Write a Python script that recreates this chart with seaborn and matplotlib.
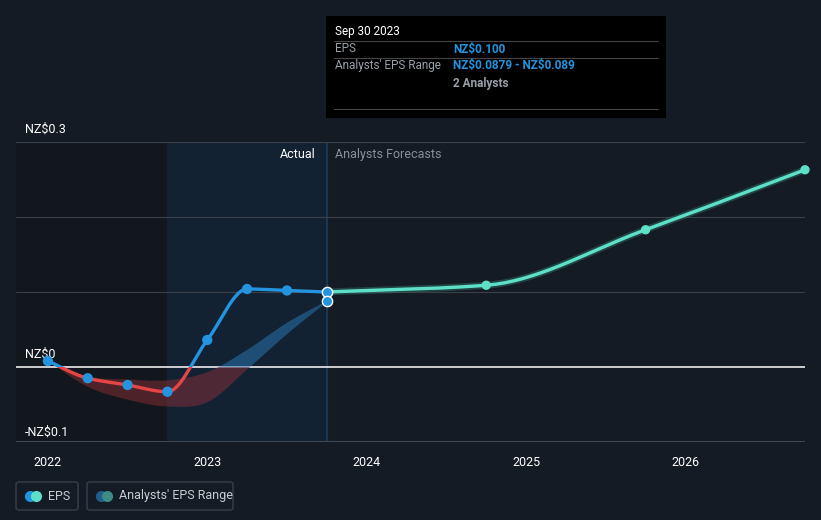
import numpy as np
import pandas as pd
import matplotlib
matplotlib.use("Agg")
import matplotlib.pyplot as plt
from matplotlib.patches import Rectangle, FancyBboxPatch
import seaborn as sns

# data (x in fractional years)
hist_x = [2022.0, 2022.25, 2022.5, 2022.75, 2023.0, 2023.25, 2023.5, 2023.75]
hist_eps = [0.008, -0.015, -0.024, -0.033, 0.036, 0.104, 0.102, 0.100]
range_hi = [0.008, -0.012, -0.016, -0.017, -0.006, 0.024, 0.060, 0.089]
range_lo = [0.008, -0.026, -0.043, -0.052, -0.046, -0.002, 0.045, 0.088]
fc_x = [2023.75, 2024.75, 2025.75, 2026.75]
fc_eps = [0.100, 0.109, 0.183, 0.263]
year_ticks = [2022, 2023, 2024, 2025, 2026]
y_ticks = [-0.1, 0, 0.3]
y_labels = ["-NZ$0.1", "NZ$0", "NZ$0.3"]

BG = "#151b24"
BLUE = "#2394df"
RED = "#e64545"
TEAL = "#5ee0c8"


def smooth(x, y, n=200, monotone=True):
    # cubic hermite curve, only used to draw the smooth line shape
    x = np.asarray(x, float); y = np.asarray(y, float)
    h = np.diff(x); d = np.diff(y) / h
    m = np.zeros_like(y)
    m[0], m[-1] = d[0], d[-1]
    for i in range(1, len(y) - 1):
        if not monotone:
            m[i] = (d[i - 1] + d[i]) / 2
        elif d[i - 1] * d[i] > 0:
            w1 = 2 * h[i] + h[i - 1]; w2 = h[i] + 2 * h[i - 1]
            m[i] = (w1 + w2) / (w1 / d[i - 1] + w2 / d[i])
    xs = np.linspace(x[0], x[-1], n)
    idx = np.clip(np.searchsorted(x, xs) - 1, 0, len(x) - 2)
    t = (xs - x[idx]) / h[idx]
    h00 = 2 * t**3 - 3 * t**2 + 1; h10 = t**3 - 2 * t**2 + t
    h01 = -2 * t**3 + 3 * t**2; h11 = t**3 - t**2
    ys = h00 * y[idx] + h10 * h[idx] * m[idx] + h01 * y[idx + 1] + h11 * h[idx] * m[idx + 1]
    return xs, ys


sns.set_style("dark", {"axes.facecolor": BG, "figure.facecolor": BG})
plt.rcParams["font.family"] = ["Roboto", "DejaVu Sans"]
plt.rcParams["text.parse_math"] = False

fig = plt.figure(figsize=(8.21, 5.2), dpi=100)
ax = fig.add_axes([16 / 821, 78 / 520, 789 / 821, 300 / 520])
ax.set_facecolor(BG)
ax.set_xlim(2021.8, 2026.75)
ax.set_ylim(-0.1, 0.3)

# shaded past / actual regions
ax.axvspan(2021.8, 2022.75, color="#12161d", zorder=0)
ax.axvspan(2022.75, 2023.75, color="#132233", zorder=0)
ax.axvline(2023.75, color="#1c3b58", lw=1.2, zorder=1)

for yv in [0.1, 0.2, 0.3]:
    ax.axhline(yv, color="#3a404a", lw=0.8, zorder=1)
ax.axhline(0, color="white", lw=1.1, zorder=2)
ax.axhline(-0.1, color="#4a505a", lw=1.2, zorder=2)

up_clip = Rectangle((2021, 0), 10, 1, transform=ax.transData)
dn_clip = Rectangle((2021, -1), 10, 1, transform=ax.transData)

# analysts' range band
bx, bhi = smooth(hist_x, range_hi, monotone=False)
_, blo = smooth(hist_x, range_lo, monotone=False)
f1 = ax.fill_between(bx, blo, bhi, color="#2a78b8", alpha=0.5, lw=0, zorder=3)
f1.set_clip_path(up_clip)
f2 = ax.fill_between(bx, blo, bhi, color="#8a2e36", alpha=0.5, lw=0, zorder=3)
f2.set_clip_path(dn_clip)

# historic EPS line, blue above zero, red below
hx, hy = smooth(hist_x, hist_eps)
df_h = pd.DataFrame({"x": hx, "y": hy})
sns.lineplot(data=df_h, x="x", y="y", ax=ax, color=BLUE, lw=2.4, zorder=4)
sns.lineplot(data=df_h, x="x", y="y", ax=ax, color=RED, lw=2.4, zorder=4)
ax.lines[-2].set_clip_path(up_clip)
ax.lines[-1].set_clip_path(dn_clip)

# forecast
fx, fy = smooth(fc_x, fc_eps)
sns.lineplot(x=fx, y=fy, ax=ax, color="#2d6f64", lw=5, alpha=0.5, zorder=4)
sns.lineplot(x=fx, y=fy, ax=ax, color=TEAL, lw=2.4, zorder=5)
sns.scatterplot(x=fc_x[1:], y=fc_eps[1:], ax=ax, color=TEAL, s=45, edgecolor="none", zorder=6, clip_on=False)
sns.scatterplot(x=hist_x[:-1], y=hist_eps[:-1], ax=ax, color=BLUE, s=55, edgecolor="none", zorder=6)
sns.scatterplot(x=[hist_x[-1], hist_x[-1]], y=[hist_eps[-1], range_lo[-1]], ax=ax, color=BLUE,
                s=55, edgecolor="white", linewidth=1, zorder=7)

ax.text(2023.68, 0.283, "Actual", color="white", fontsize=9, ha="right", va="center")
ax.text(2023.80, 0.283, "Analysts Forecasts", color="#8a8f98", fontsize=9, ha="left", va="center")

ax.set_xticks(year_ticks)
ax.set_xticklabels([str(y) for y in year_ticks], color="white", fontsize=9)
ax.tick_params(axis="x", length=4, color="#4a505a", pad=6)
ax.set_yticks([])
ax.set_xlabel(""); ax.set_ylabel("")
for s in ax.spines.values():
    s.set_visible(False)
for yv, lab in zip(y_ticks, y_labels):
    ax.text(0.011, yv + 0.008 if yv > -0.1 else yv + 0.004, lab, transform=ax.get_yaxis_transform(),
            color="white", fontsize=9, ha="left", va="bottom")

# tooltip
fig.patches.append(Rectangle((326 / 821, 1 - 118 / 520), 340 / 821, 102 / 520, transform=fig.transFigure,
                             facecolor="black", edgecolor="none", zorder=10))
for yy in [41, 58, 109]:
    fig.add_artist(plt.Line2D([334 / 821, 658 / 821], [1 - yy / 520] * 2, color="#444", lw=0.8, zorder=11))
fig.text(335 / 821, 1 - 31 / 520, "Sep 30 2023", color="white", fontsize=8.5, va="center", zorder=12)
fig.text(335 / 821, 1 - 49 / 520, "EPS", color="#9a9fa8", fontsize=8.5, va="center", zorder=12)
fig.text(453 / 821, 1 - 49 / 520, "NZ$0.100", color=BLUE, fontsize=8.5, weight="bold", va="center", zorder=12)
fig.text(335 / 821, 1 - 66 / 520, "Analysts' EPS Range", color="#9a9fa8", fontsize=8.5, va="center", zorder=12)
fig.text(453 / 821, 1 - 66 / 520, "NZ$0.0879 - NZ$0.089", color=BLUE, fontsize=8.5, weight="bold",
         va="center", zorder=12)
fig.text(453 / 821, 1 - 83 / 520, "2 Analysts", color="#9a9fa8", fontsize=8.5, weight="bold",
         va="center", zorder=12)

# legend boxes
for x0, w in [(16, 62), (87, 146)]:
    fig.patches.append(FancyBboxPatch((x0 / 821, 1 - 510 / 520), w / 821, 28 / 520, transform=fig.transFigure,
                                      boxstyle="round,pad=0,rounding_size=0.004", facecolor="none",
                                      edgecolor="#3a404a", lw=1))
for cx, col in [(30, BLUE), (36, TEAL), (101, "#1f5f8f"), (107, "#3d8c86")]:
    fig.add_artist(plt.Line2D([cx / 821], [1 - 496 / 520], marker="o", ms=7, color=col, lw=0))
fig.text(48 / 821, 1 - 496 / 520, "EPS", color="#c8ccd2", fontsize=9, va="center")
fig.text(119 / 821, 1 - 496 / 520, "Analysts' EPS Range", color="#c8ccd2", fontsize=9, va="center")

fig.savefig("out.png", dpi=100, facecolor=BG)
